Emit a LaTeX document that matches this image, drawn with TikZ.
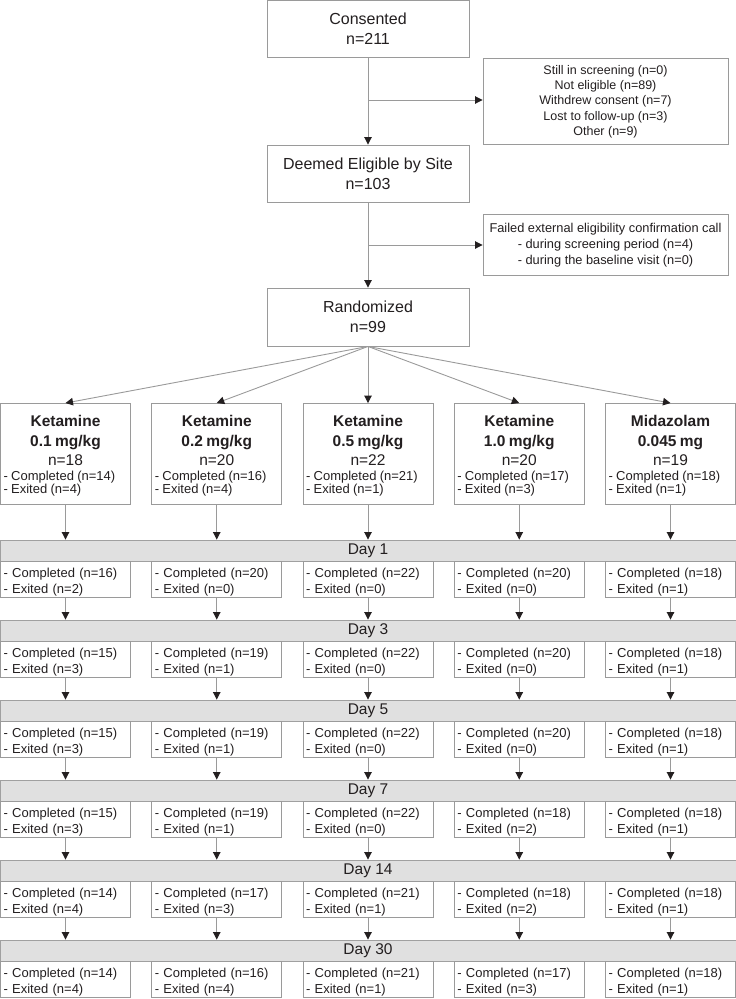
\documentclass[tikz,border=0pt]{standalone}
\usepackage{fontspec}
\setmainfont{Liberation Sans}
\usetikzlibrary{arrows.meta}
\definecolor{boxline}{HTML}{9A9A9A}
\definecolor{barline}{HTML}{A0A0A0}
\definecolor{barfill}{HTML}{E0E0E0}
\definecolor{ink}{HTML}{231F20}
\newcommand{\armtext}[5]{{\centering\fontsize{15.5}{19.5}\selectfont\textbf{#1}\\\textbf{#2}\\n=#3\par}\vspace{2pt}{\raggedright\fontsize{13}{13}\selectfont- Completed (n=#4)\\- Exited (n=#5)\par}}

\begin{document}
\begin{tikzpicture}[x=1pt,y=-1pt,line width=0.9pt,
    box/.style={rectangle,draw=boxline,fill=white,text=ink,inner sep=2pt},
    mainbox/.style={box,minimum width=202pt,align=center,font=\fontsize{16}{20}\selectfont},
    sidebox/.style={box,minimum width=245pt,align=center,font=\fontsize{12.5}{15.3}\selectfont},
    armbox/.style={box,text width=124pt,minimum height=101pt,inner sep=3pt,text height=15pt},
    fupbox/.style={box,text width=124pt,minimum height=36pt,inner xsep=3pt,inner ysep=0.5pt,align=left,text height=15pt,font=\fontsize{13}{16}\selectfont},
    daybar/.style={rectangle,draw=barline,fill=barfill,minimum width=736pt,minimum height=21pt,text=ink,font=\fontsize{15.5}{18}\selectfont},
    link/.style={draw=boxline},
    arr/.style={link,-{Triangle[width=7.5pt,length=7.5pt,color=ink]}}
    ]
\useasboundingbox (0,0) rectangle (736,999);

% screening
\node[mainbox,minimum height=57pt] (consent) at (368,28.5) {Consented\\n=211};
\node[mainbox,minimum height=57pt] (eligible) at (368,173.5) {Deemed Eligible by Site\\n=103};
\node[mainbox,minimum height=58pt] (random) at (368,317) {Randomized\\n=99};
\node[sidebox,minimum height=86pt] (excl1) at (605.5,101.5) {Still in screening (n=0)\\Not eligible (n=89)\\Withdrew consent (n=7)\\Lost to follow-up (n=3)\\Other (n=9)};
\node[sidebox,minimum height=61pt,font=\fontsize{12.8}{16}\selectfont] (excl2) at (605.5,245) {Failed external eligibility confirmation call\\- during screening period (n=4)\\- during the baseline visit (n=0)};
\coordinate (b1) at (368,100);
\coordinate (b2) at (368,245);
\draw[arr] (consent) -- (eligible);
\draw[arr] (b1) -- (excl1.west |- b1);
\draw[arr] (eligible) -- (random);
\draw[arr] (b2) -- (excl2.west);

% arms
\node[armbox] (f0-1) at (65.5,454) {\armtext{Ketamine}{0.1 mg/kg}{18}{14}{4}};
\node[armbox] (f0-2) at (216.75,454) {\armtext{Ketamine}{0.2 mg/kg}{20}{16}{4}};
\node[armbox] (f0-3) at (368,454) {\armtext{Ketamine}{0.5 mg/kg}{22}{21}{1}};
\node[armbox] (f0-4) at (519.25,454) {\armtext{Ketamine}{1.0 mg/kg}{20}{17}{3}};
\node[armbox] (f0-5) at (670.5,454) {\armtext{Midazolam}{0.045 mg}{19}{18}{1}};
\foreach \i in {1,...,5}
  \draw[arr] (random.south) -- (f0-\i.north);

% follow-up visits
\foreach \r/\day/\vals in {1/1/{16/2,20/0,22/0,20/0,18/1},
                           2/3/{15/3,19/1,22/0,20/0,18/1},
                           3/5/{15/3,19/1,22/0,20/0,18/1},
                           4/7/{15/3,19/1,22/0,18/2,18/1},
                           5/14/{14/4,17/3,21/1,18/2,18/1},
                           6/30/{14/4,16/4,21/1,17/3,18/1}} {
  \pgfmathsetmacro\t{540+80*(\r-1)}
  \pgfmathtruncatemacro\p{\r-1}
  \node[daybar] (day\r) at (368,\t+10.5) {Day \day};
  \foreach \c/\e [count=\i] in \vals {
    \pgfmathsetmacro\x{65.5+151.25*(\i-1)}
    \node[fupbox] (f\r-\i) at (\x,\t+39) {- Completed (n=\c)\\- Exited (n=\e)};
    \draw[arr] (f\p-\i.south) -- (f\p-\i.south |- day\r.north);
  }
}
\end{tikzpicture}
\end{document}
